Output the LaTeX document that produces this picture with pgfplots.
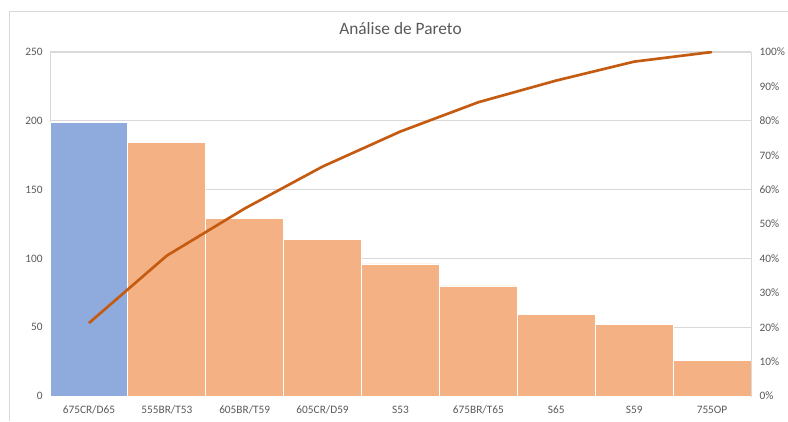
\documentclass[border=0pt]{standalone}
\usepackage{fontspec}
\setmainfont{Carlito}
\usepackage{pgfplots}
\pgfplotsset{compat=1.18}
\definecolor{txt}{HTML}{595959}
\definecolor{gridc}{HTML}{D9D9D9}
\definecolor{barblue}{HTML}{8FAADC}
\definecolor{barorange}{HTML}{F4B183}
\definecolor{linec}{HTML}{C55A11}
\begin{document}
\begin{tikzpicture}[x=0.75pt,y=0.75pt]
% page extent (pixels relative to axis origin at px (50,396))
\path[use as bounding box] (-50,-25) rectangle (738,396);
\draw[gridc, line width=0.75pt] (-40,-25) -- (-40,384) -- (738,384);
\begin{axis}[
  at={(0,0)}, anchor=south west,
  scale only axis, width=525.75pt, height=258pt,
  xmin=-0.5, xmax=8.5, ymin=0, ymax=250,
  ytick={0,50,...,250},
  xtick={0,...,8},
  xticklabels={675CR/D65,555BR/T53,605BR/T59,605CR/D59,S53,675BR/T65,S65,S59,755OP},
  axis line style={gridc},
  ymajorgrids, grid style={gridc, line width=0.75pt},
  major tick length=0pt,
  tick label style={txt, font=\fontsize{8.5}{10}\selectfont},
  /pgf/number format/assume math mode=true,
  yticklabel style={xshift=-2pt},
  xticklabel style={yshift=-4pt},
  title={Análise de Pareto},
  title style={txt, font=\fontsize{13}{15}\selectfont, at={(0.5,1)}, yshift=3.5pt, anchor=south},
]
\addplot[ybar, bar width=1, bar shift=0pt, fill=barblue, draw=white, line width=0.6pt]
  coordinates {(0,199)};
\addplot[ybar, bar width=1, bar shift=0pt, fill=barorange, draw=white, line width=0.6pt]
  coordinates {(1,184) (2,129) (3,114) (4,96) (5,80) (6,59) (7,52) (8,26)};
\end{axis}
\begin{axis}[
  at={(0,0)}, anchor=south west,
  scale only axis, width=525.75pt, height=258pt,
  xmin=-0.5, xmax=8.5, ymin=0, ymax=100,
  axis y line*=right, axis x line=none,
  ytick={0,10,...,100},
  yticklabel={\pgfmathprintnumber{\tick}\%},
  axis line style={gridc},
  major tick length=0pt,
  tick label style={txt, font=\fontsize{8.5}{10}\selectfont},
  /pgf/number format/assume math mode=true,
  yticklabel style={xshift=3pt},
]
\addplot[linec, line width=2pt, line join=round] coordinates {
  (0,21.2) (1,40.8) (2,54.5) (3,66.7) (4,76.9) (5,85.4) (6,91.7) (7,97.2) (8,100)};
\end{axis}
\end{tikzpicture}
\end{document}
